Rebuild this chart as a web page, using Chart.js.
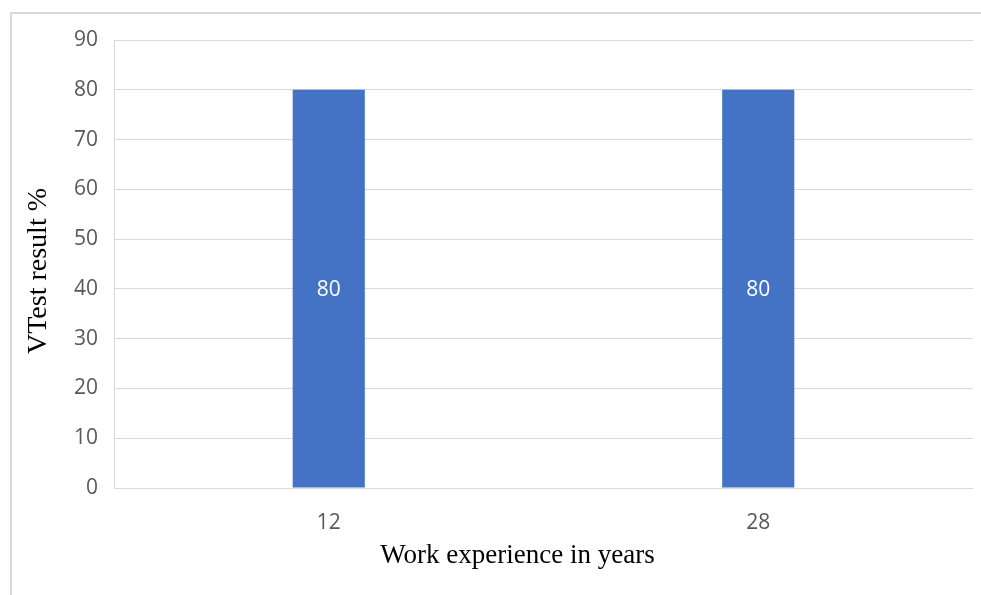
<!DOCTYPE html>
<html>
<head>
<meta charset="utf-8">
<script src="https://cdn.jsdelivr.net/npm/chart.js@4"></script>
<style>
  html, body { margin: 0; padding: 0; background: #ffffff; }
  #wrap { position: relative; width: 981px; height: 595px; }
</style>
</head>
<body>
<div id="wrap"><canvas id="c" width="981" height="595"></canvas></div>
<script>
const categories = ['12', '28'];
const testResults = [80, 80];
const yTicks = [0, 10, 20, 30, 40, 50, 60, 70, 80, 90];
const xTitle = 'Work experience in years';
const yTitle = 'VTest result %';

const frameAndLabels = {
  id: 'frameAndLabels',
  beforeDraw(chart) {
    const ctx = chart.ctx;
    ctx.save();
    ctx.strokeStyle = '#d9d9d9';
    ctx.lineWidth = 2;
    ctx.strokeRect(11, 13, 1200, 1200);
    ctx.restore();
  },
  afterDatasetsDraw(chart) {
    const ctx = chart.ctx;
    ctx.save();
    ctx.fillStyle = '#ffffff';
    ctx.font = '21px "Open Sans", "Noto Sans", sans-serif';
    ctx.textAlign = 'center';
    ctx.textBaseline = 'middle';
    chart.getDatasetMeta(0).data.forEach((bar, i) => {
      const p = bar.getProps(['x', 'y', 'base'], true);
      ctx.fillText(String(testResults[i]), p.x, (p.y + p.base) / 2 + 1);
    });
    ctx.restore();
  },
  afterDraw(chart) {
    const ctx = chart.ctx;
    const a = chart.chartArea;
    ctx.save();
    ctx.fillStyle = '#000000';
    ctx.font = '27px "Liberation Serif", serif';
    ctx.textAlign = 'center';
    ctx.textBaseline = 'middle';
    ctx.fillText(xTitle, (a.left + a.right) / 2 - 26, a.bottom + 68);
    ctx.translate(39, (a.top + a.bottom) / 2 + 7);
    ctx.rotate(-Math.PI / 2);
    ctx.font = '28px "Liberation Serif", serif';
    ctx.fillText(yTitle, 0, 0);
    ctx.restore();
  }
};

new Chart(document.getElementById('c'), {
  type: 'bar',
  data: {
    labels: categories,
    datasets: [{
      data: testResults,
      backgroundColor: '#4472c4',
      borderWidth: 0,
      categoryPercentage: 1,
      barPercentage: 0.168
    }]
  },
  options: {
    responsive: false,
    animation: false,
    devicePixelRatio: 1,
    layout: { padding: { left: 0, right: 8, top: 40, bottom: 0 } },
    plugins: { legend: { display: false }, tooltip: { enabled: false } },
    scales: {
      x: {
        grid: { display: false, drawTicks: false },
        border: { display: false },
        ticks: { color: '#595959', padding: 22, font: { family: '"Open Sans", "Noto Sans", sans-serif', size: 21 } },
        title: { display: false, text: xTitle },
        afterFit(s) { s.height = 107; }
      },
      y: {
        min: 0, max: 90,
        afterBuildTicks(s) { s.ticks = yTicks.map(v => ({ value: v })); },
        grid: { color: '#d9d9d9', drawTicks: false, lineWidth: 1 },
        border: { display: true, color: '#d9d9d9' },
        ticks: { color: '#595959', padding: 16, font: { family: '"Open Sans", "Noto Sans", sans-serif', size: 21 } },
        title: { display: false, text: yTitle },
        afterFit(s) { s.width = 114; }
      }
    }
  },
  plugins: [frameAndLabels]
});
</script>
</body>
</html>
